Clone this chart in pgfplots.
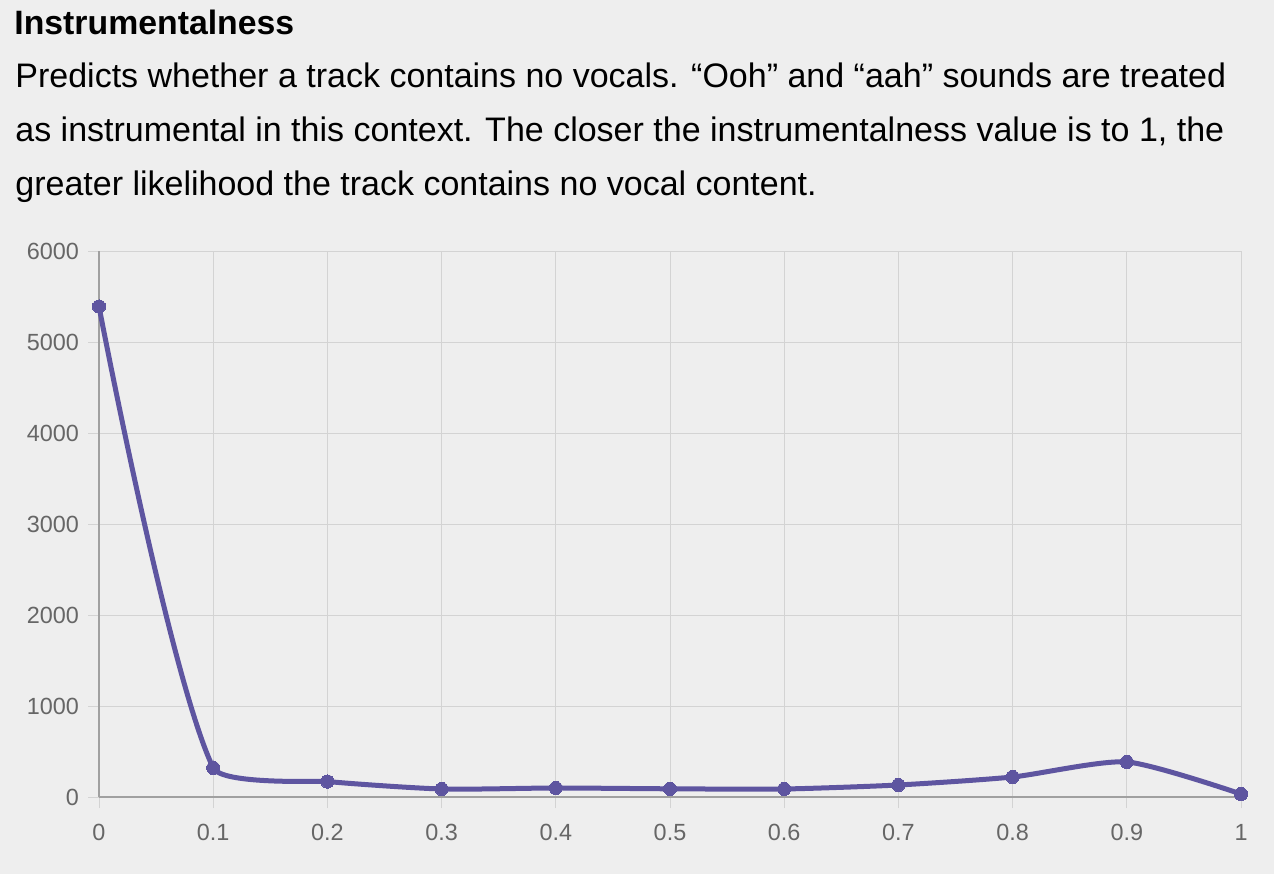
\documentclass[border=0pt]{standalone}
\usepackage{fontspec}
\setmainfont{Liberation Sans}
\usepackage{pgfplots}
\pgfplotsset{compat=1.18}
\definecolor{bgc}{HTML}{EEEEEE}
\definecolor{linec}{HTML}{5E55A0}
\definecolor{gridc}{HTML}{D3D3D3}
\definecolor{axisc}{HTML}{A0A0A0}
\definecolor{tickc}{HTML}{666666}
\begin{document}
\begin{tikzpicture}
\fill[bgc] (0,0) rectangle (637bp,437bp);
\useasboundingbox (0,0) rectangle (637bp,437bp);
\node[anchor=base west,inner sep=0pt,font=\fontsize{16.9bp}{20bp}\selectfont\bfseries] at (7bp,419.5bp) {Instrumentalness};
\node[anchor=base west,inner sep=0pt,font=\fontsize{17bp}{20bp}\selectfont] at (7.5bp,393.2bp) {Predicts whether a track contains no vocals. “Ooh” and “aah” sounds are treated};
\node[anchor=base west,inner sep=0pt,font=\fontsize{17bp}{20bp}\selectfont] at (7.5bp,366.2bp) {as instrumental in this context. The closer the instrumentalness value is to 1, the};
\node[anchor=base west,inner sep=0pt,font=\fontsize{17bp}{20bp}\selectfont] at (7.5bp,339.4bp) {greater likelihood the track contains no vocal content.};
\begin{axis}[
  at={(49.5bp,38.5bp)}, anchor=south west,
  scale only axis, width=571bp, height=273bp,
  xmin=0, xmax=1, ymin=0, ymax=6000,
  axis lines=left, axis line style={-, draw=axisc, line width=0.75bp},
  xtick={0,0.1,0.2,0.3,0.4,0.5,0.6,0.7,0.8,0.9,1},
  xticklabels={0,0.1,0.2,0.3,0.4,0.5,0.6,0.7,0.8,0.9,1},
  ytick={0,1000,2000,3000,4000,5000,6000},
  yticklabels={0,1000,2000,3000,4000,5000,6000},
  grid=major, major grid style={draw=gridc, line width=0.5bp},
  tick align=outside, major tick length=5.5bp,
  major tick style={draw=gridc, line width=0.5bp},
  tick label style={font=\fontsize{11.7bp}{14bp}\selectfont, text=tickc},
  xticklabel style={yshift=-4.5bp},
  yticklabel style={xshift=-1bp},
  clip=false,
]
\begin{scope}
\clip (axis cs:-0.1,-1000) rectangle (axis cs:0.1,7000);
\addplot[linec, line width=2.5bp, smooth, tension=0.68, mark=none]
coordinates {(0,5390) (0.1,320) (0.2,170)};
\end{scope}
\begin{scope}
\clip (axis cs:0.1,-1000) rectangle (axis cs:0.2,7000);
\addplot[linec, line width=2.5bp, smooth, tension=0.13, mark=none]
coordinates {(0,5390) (0.1,320) (0.2,170) (0.3,88)};
\end{scope}
\begin{scope}
\clip (axis cs:0.2,-1000) rectangle (axis cs:1.1,7000);
\addplot[linec, line width=2.5bp, smooth, tension=0.4, mark=none]
coordinates {(0.1,320) (0.2,170) (0.3,88) (0.4,99) (0.5,90) (0.6,88) (0.7,132) (0.8,220) (0.9,385) (1,33)};
\end{scope}
\addplot[only marks, mark=*, mark size=3.3bp, mark options={fill=linec, draw=linec, line width=0pt}]
coordinates {(0,5390) (0.1,320) (0.2,170) (0.3,88) (0.4,99) (0.5,90) (0.6,88) (0.7,132) (0.8,220) (0.9,385) (1,33)};
\end{axis}
\end{tikzpicture}
\end{document}
